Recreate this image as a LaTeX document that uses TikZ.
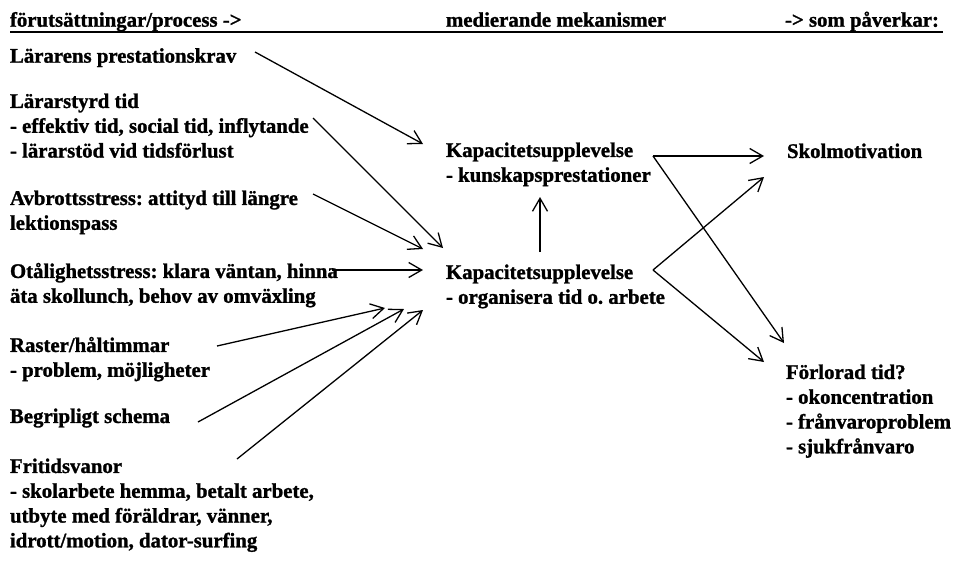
\documentclass[tikz,border=0pt]{standalone}
\usepackage{fontspec}
\setmainfont{Liberation Serif}[BoldFeatures={FakeBold=1.2}]
\usetikzlibrary{arrows.meta}
\frenchspacing
\begin{document}
\frenchspacing
\begin{tikzpicture}[x=1pt,y=-1pt,
  txt/.style={anchor=north west, inner sep=0pt, outer sep=0pt, align=left,
    font=\fontsize{20.8}{24.8}\selectfont\bfseries},
  hdr/.style={anchor=base west, inner sep=0pt, outer sep=0pt,
    font=\fontsize{20.8}{24.8}\selectfont\bfseries},
  arr/.style={-{Straight Barb[length=13pt,width=15pt]}, line width=1.3pt}]
\useasboundingbox (0,0) rectangle (957,576);
\fill[white] (0,0) rectangle (957,576);
% header
\node[hdr] (h1) at (10,26.7) {förutsättningar/process ->};
\node[hdr] (h2) at (446,26.7) {medierande mekanismer};
\node[hdr] (h3) at (785,26.7) {-> som påverkar:};
\draw[line width=1.8pt] (10,32.3) coordinate (ul1) -- (943,32.3) coordinate (ul2);
% left column
\node[txt] (L1) at (10,45.3) {\strut Lärarens prestationskrav};
\node[txt] (L2) at (10,90.6) {\strut Lärarstyrd tid\\- effektiv tid, social tid, inflytande\\- lärarstöd vid tidsförlust};
\node[txt] (L3) at (10,187.6) {\strut Avbrottsstress: attityd till längre\\lektionspass};
\node[txt] (L4) at (10,260.6) {\strut Otålighetsstress: klara väntan, hinna\\äta skollunch, behov av omväxling};
\node[txt] (L5) at (10,334.6) {\strut Raster/håltimmar\\- problem, möjligheter};
\node[txt] (L6) at (10,405.6) {\strut Begripligt schema};
\node[txt] (L7) at (10,455.6) {\strut Fritidsvanor\\- skolarbete hemma, betalt arbete,\\utbyte med föräldrar, vänner,\\idrott/motion, dator-surfing};
% middle
\node[txt] (M1) at (446,139.6) {\strut Kapacitetsupplevelse\\- kunskapsprestationer};
\node[txt] (M2) at (446,261.6) {\strut Kapacitetsupplevelse\\- organisera tid o. arbete};
% right
\node[txt] (R1) at (787,140.6) {\strut Skolmotivation};
\node[txt] (R2) at (786,361.6) {\strut Förlorad tid?\\- okoncentration\\- frånvaroproblem\\- sjukfrånvaro};
% connector ends
\coordinate (s1) at (255,52);   \coordinate (t1) at (423,144);
\coordinate (s2) at (313,118);  \coordinate (t2) at (443,248);
\coordinate (s3) at (313,194);  \coordinate (t3) at (423,249);
\coordinate (s4) at (332,270);  \coordinate (t4) at (423,270);
\coordinate (s5) at (217,346);  \coordinate (t5) at (385,308);
\coordinate (s6) at (198,422);  \coordinate (t6) at (404,309);
\coordinate (s7) at (237,459);  \coordinate (t7) at (423,310);
\coordinate (s8) at (540,252);  \coordinate (t8) at (540,197);
\coordinate (k1) at (653,156);  \coordinate (k2) at (653,270);
\coordinate (sm1) at (764,156); \coordinate (sm2) at (764,177);
\coordinate (fl1) at (784,343); \coordinate (fl2) at (764,362);
% connectors
\draw[arr] (s1) -- (t1);
\draw[arr] (s2) -- (t2);
\draw[arr] (s3) -- (t3);
\draw[arr] (s4) -- (t4);
\draw[arr] (s5) -- (t5);
\draw[arr] (s6) -- (t6);
\draw[arr] (s7) -- (t7);
\draw[arr] (s8) -- (t8);
\draw[arr] (k1) -- (sm1);
\draw[arr] (k1) -- (fl1);
\draw[arr] (k2) -- (sm2);
\draw[arr] (k2) -- (fl2);
\end{tikzpicture}
\end{document}
